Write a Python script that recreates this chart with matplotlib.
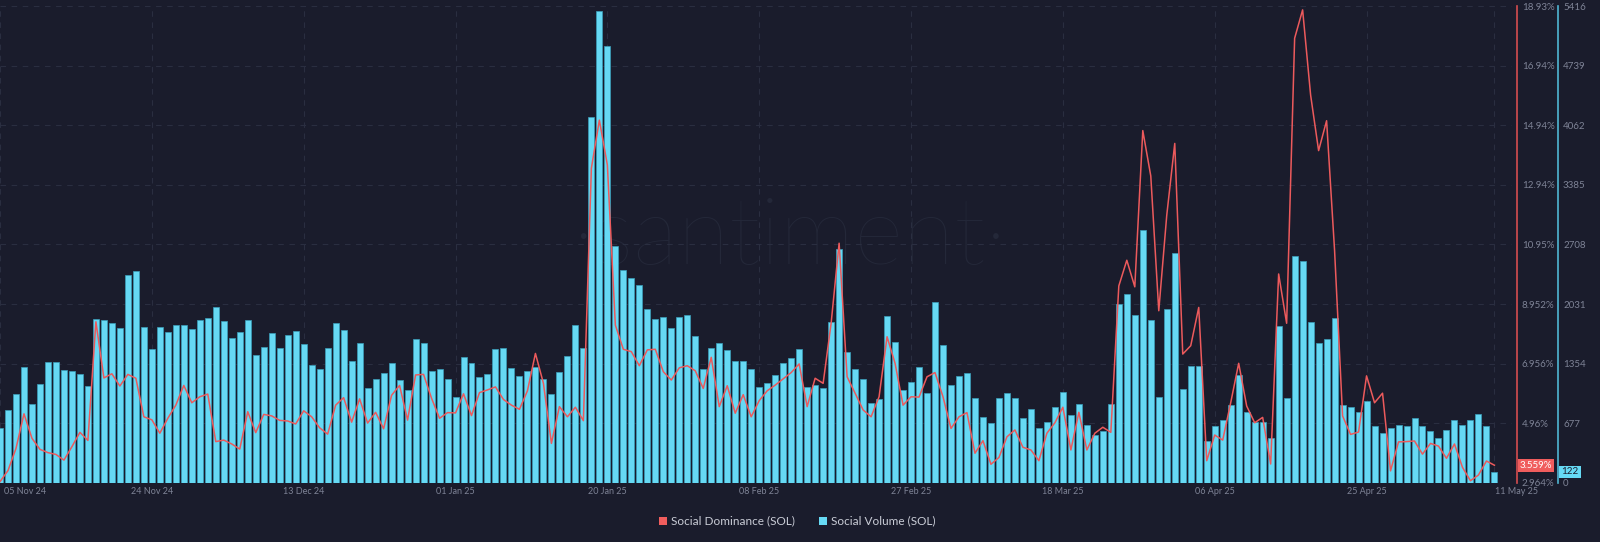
import matplotlib
matplotlib.use("Agg")
import matplotlib.pyplot as plt
from matplotlib.patches import Rectangle
import pandas as pd
import numpy as np

# daily values (05 Nov 24 .. 11 May 25)
dates = pd.date_range("2024-11-05", "2025-05-11", freq="D")

social_volume = [
    621, 832, 1007, 1314, 893, 1120, 1378, 1378, 1287, 1276,
    1234, 1098, 1862, 1851, 1820, 1756, 2362, 2403, 1768, 1521,
    1768, 1718, 1797, 1797, 1748, 1851, 1870, 2002, 1839, 1643,
    1711, 1851,
    1450, 1548, 1700, 1529, 1677, 1722, 1582, 1336, 1291, 1529,
    1820, 1737, 1385, 1586, 1082, 1177, 1249, 1359, 1169, 1056,
    1639, 1593, 1268, 1291, 1184, 976, 1434, 1366, 1204, 1234,
    1518,
    1529, 1302, 1215, 1272, 1321, 1177, 1010, 1257, 1446, 1794,
    1529, 4152, 5363, 4962, 2691, 2415, 2331, 2244, 1979, 1866,
    1881, 1760, 1888, 1907, 1665, 1294, 1536, 1593, 1510, 1389,
    1385, 1298, 1086, 1132, 1222, 1359, 1416, 1521, 1094, 1116,
    1079, 1828, 2653, 1491, 1298, 1185, 905, 950, 1900, 1597,
    1052, 1143, 1321, 1018, 2059, 1567, 1109, 1215, 1245, 969,
    749,
    677, 969, 1022, 969, 734, 840, 624, 689, 859, 1033,
    772, 900, 662, 548, 587, 893, 2029, 2142, 1904, 2876,
    1851, 976, 1976, 2615, 1071, 1325, 1332, 473, 647, 715,
    880,
    1226, 810, 693, 696, 515, 1786, 965, 2577, 2517, 1825,
    1590, 1635, 1870, 886, 859, 810, 934, 643, 571, 628,
    655, 651, 734, 643, 590, 515, 605, 715, 662, 715,
    780, 643, 122,
]

social_dominance = [
    3.01, 3.38, 4.12, 5.28, 4.46, 4.09, 3.98, 3.92, 3.73, 4.18,
    4.66, 4.39, 8.36, 6.48, 6.62, 6.21, 6.60, 6.47, 5.18, 5.08,
    4.63, 5.13, 5.57, 6.23, 5.65, 5.85, 5.94, 4.35, 4.40, 4.27,
    4.10, 5.35,
    4.65, 5.26, 5.21, 5.06, 5.04, 4.94, 5.38, 5.18, 4.81, 4.60,
    5.57, 5.82, 5.00, 5.78, 4.97, 5.33, 4.78, 5.90, 6.23, 5.07,
    6.58, 6.60, 5.80, 5.13, 5.32, 5.31, 5.95, 5.22, 5.99, 6.08,
    6.18,
    5.76, 5.57, 5.43, 6.05, 7.30, 6.30, 4.29, 5.52, 5.18, 5.50,
    5.05, 13.50, 15.11, 13.61, 8.25, 7.44, 7.36, 6.89, 7.42, 7.44,
    6.69, 6.41, 6.82, 6.89, 6.72, 6.13, 7.17, 5.52, 6.22, 5.30,
    5.92, 5.18, 5.72, 6.05, 6.24, 6.45, 6.66, 6.95, 5.52, 6.47,
    6.30, 8.31, 10.99, 6.52, 5.97, 5.41, 5.18, 5.85, 7.86, 6.97,
    5.57, 5.85, 5.84, 6.52, 6.66, 5.85, 4.79, 5.18, 5.32, 3.96,
    4.38,
    3.59, 3.82, 4.51, 4.74, 4.16, 4.07, 3.71, 4.63, 4.98, 5.50,
    4.07, 5.33, 4.07, 4.63, 4.83, 4.66, 9.56, 10.42, 9.53, 14.76,
    13.24, 8.73, 11.93, 14.33, 7.28, 7.56, 8.84, 3.71, 4.57, 4.40,
    5.65,
    6.97, 5.54, 4.98, 5.16, 3.60, 9.96, 8.31, 17.85, 18.80, 15.95,
    14.09, 15.09, 10.74, 5.21, 4.59, 4.67, 6.55, 5.65, 5.97, 3.37,
    4.34, 4.35, 4.37, 3.93, 4.29, 4.20, 3.79, 4.27, 3.49, 3.04,
    3.23, 3.70, 3.559,
]

date_ticks = ["05 Nov 24", "24 Nov 24", "13 Dec 24", "01 Jan 25", "20 Jan 25",
              "08 Feb 25", "27 Feb 25", "18 Mar 25", "06 Apr 25", "25 Apr 25",
              "11 May 25"]
vol_ticks = [0, 677, 1354, 2031, 2708, 3385, 4062, 4739, 5416]
dom_ticks = [2.964, 4.96, 6.956, 8.952, 10.95, 12.94, 14.94, 16.94, 18.93]
dom_labels = ["2.964%", "4.96%", "6.956%", "8.952%", "10.95%", "12.94%",
              "14.94%", "16.94%", "18.93%"]

BG = "#1a1c2c"
CYAN = "#66d9f4"
RED = "#ec5a5c"
GRID = "#2a2e40"
TXT = "#7e8396"

W, H = 1600, 542
PT = 72 / 100  # points per pixel at dpi 100
def fx(x):
    return x / W
def fy(y):
    return 1 - y / H

plt.rcParams["font.family"] = ["Lato", "DejaVu Sans"]

fig = plt.figure(figsize=(W / 100, H / 100), dpi=100, facecolor=BG)
ax = fig.add_axes([0, fy(483), fx(1512), (483 - 6) / H])
ax.set_facecolor(BG)

x = np.arange(len(dates))
ax.bar(x, social_volume, width=0.75, color=CYAN, edgecolor="#3a9fba",
       linewidth=0.5, zorder=2)
ax.set_xlim(0, 189.2)
ax.set_ylim(0, 5416)

# santiment watermark behind the bars
ax.text(0.5218, 0.46, "·santiment·", transform=ax.transAxes, ha="center",
        va="baseline", fontsize=68, color="#242839", zorder=1,
        family=["Lato", "DejaVu Sans"], fontweight="light")

tick_idx = [list(dates.strftime("%d %b %y")).index(d) for d in date_ticks]
ax.set_xticks(tick_idx)
ax.set_xticklabels([])
ax.tick_params(axis="x", length=0)
ax.set_yticks(vol_ticks)
ax.grid(True, color=GRID, linestyle=(0, (5, 5)), linewidth=0.8, zorder=0)

ax2 = ax.twinx()
ax2.plot(x, social_dominance, color=RED, linewidth=1.1, zorder=3)
ax2.set_ylim(2.964, 18.93)
ax2.set_yticks(dom_ticks)
ax2.set_yticklabels(dom_labels)
ax2.tick_params(axis="y", length=0, pad=5 * PT, labelsize=7, labelcolor=TXT)
for s in ["left", "top", "bottom"]:
    ax2.spines[s].set_visible(False)
ax2.spines["right"].set_position(("outward", 5 * PT))
ax2.spines["right"].set_color("#d64d4f")
ax2.spines["right"].set_linewidth(1.2)

# volume axis on the far right (twinx moves ax ticks to the left, so set after)
ax.yaxis.tick_right()
ax.yaxis.set_label_position("right")
ax.tick_params(axis="y", length=0, pad=5 * PT, labelsize=7, labelcolor=TXT,
               labelleft=False, labelright=True)
for s in ["left", "top", "bottom"]:
    ax.spines[s].set_visible(False)
ax.spines["right"].set_visible(True)
ax.spines["right"].set_position(("outward", 46 * PT))
ax.spines["right"].set_color("#4fb6d4")
ax.spines["right"].set_linewidth(1.2)

# date labels (first and last pushed inside like the original)
for i, (idx, lab) in enumerate(zip(tick_idx, date_ticks)):
    px = idx * 7.992
    ha = "center"
    if i == 0:
        px, ha = 4, "left"
    elif i == len(date_ticks) - 1:
        ha = "left"
    fig.text(fx(px), fy(491), lab, ha=ha, va="center", fontsize=6.5, color=TXT)

# current value badges
fig.text(fx(1536), fy(465.5), "3.559%", ha="center", va="center", fontsize=7,
         color="white", bbox=dict(boxstyle="square,pad=0.2", fc="#f05d5d", ec="none"))
fig.text(fx(1570), fy(472), "122", ha="center", va="center", fontsize=7,
         color=BG, bbox=dict(boxstyle="square,pad=0.2", fc=CYAN, ec="none"))

# legend
fig.patches.append(Rectangle((fx(659), fy(525)), 8 / W, 8 / H,
                             transform=fig.transFigure, fc="#f05d5d", ec="none"))
fig.text(fx(671), fy(521), "Social Dominance (SOL)", ha="left", va="center",
         fontsize=8.5, color="#c9ccd6")
fig.patches.append(Rectangle((fx(819), fy(525)), 8 / W, 8 / H,
                             transform=fig.transFigure, fc=CYAN, ec="none"))
fig.text(fx(831), fy(521), "Social Volume (SOL)", ha="left", va="center",
         fontsize=8.5, color="#c9ccd6")

fig.savefig("out.png", dpi=100, facecolor=BG)
